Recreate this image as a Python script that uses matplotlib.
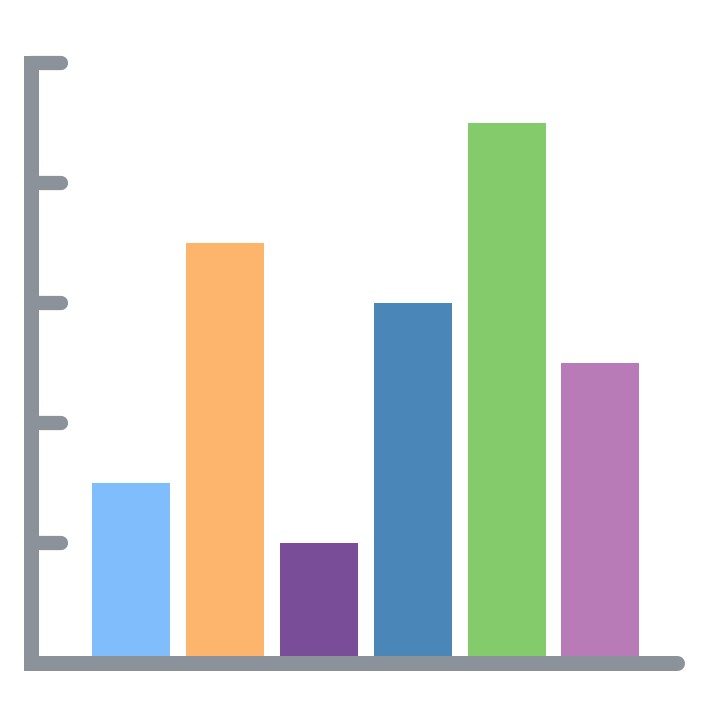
import matplotlib
matplotlib.use("Agg")
import matplotlib.pyplot as plt

# data
categories = ["A", "B", "C", "D", "E", "F"]
values = [1.5, 3.5, 1.0, 3.0, 4.5, 2.5]
colors = ["#80bdfc", "#fdb46c", "#7a4d98", "#4a86b8", "#84cb6b", "#b97bb8"]
tick_levels = [1, 2, 3, 4, 5]

axis_gray = "#8b9299"

fig = plt.figure(figsize=(7.08, 7.08), dpi=100)
ax = fig.add_axes([0, 0, 1, 1])

# pixel-based limits so the hand-drawn look lands where it should
px_x = 93.8   # px per category
px_y = 120.0  # px per unit
x0 = 131.5    # px position of first bar centre
y0 = 45.0     # px from bottom of baseline
ax.set_xlim(-x0 / px_x, (708 - x0) / px_x)
ax.set_ylim(-y0 / px_y, (708 - y0) / px_y)

xs = list(range(len(categories)))
ax.bar(xs, values, width=78 / px_x, color=colors, zorder=1)

lw = 15 * 72 / 100.
xa = (30.5 - x0) / px_x
# vertical axis (square corners)
ax.plot([xa, xa], [0, 5], color=axis_gray, lw=lw, solid_capstyle="projecting", zorder=3)
# horizontal axis
ax.plot([xa, (677 - x0) / px_x], [0, 0], color=axis_gray, lw=lw,
        solid_capstyle="round", zorder=3)
# ticks
for t in tick_levels:
    ax.plot([xa, (61 - x0) / px_x], [t, t], color=axis_gray, lw=lw * 0.95,
            solid_capstyle="round", zorder=3)

ax.axis("off")
fig.savefig("out.png", dpi=100)
